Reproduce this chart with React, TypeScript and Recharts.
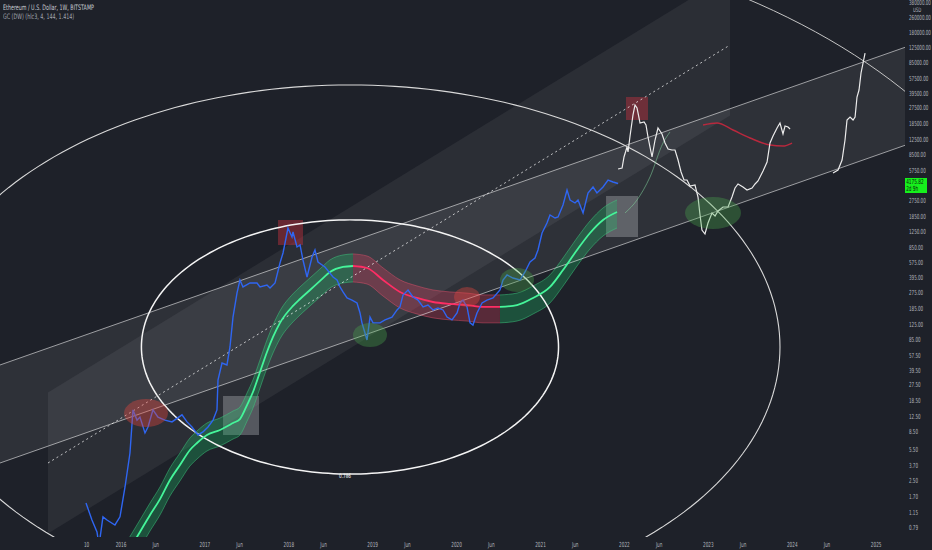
import React from 'react';
import {
  ComposedChart,
  Line,
  Area,
  XAxis,
  YAxis,
  ReferenceArea,
  ReferenceDot
} from 'recharts';

// ETH/USD weekly closes (decimal year, USD)
const ethWeeks = [
  2015.583, 2015.654, 2015.714, 2015.738, 2015.785, 2015.833, 2015.928, 2015.988, 2016.048, 2016.107,
  2016.143, 2016.191, 2016.226, 2016.286, 2016.322, 2016.381, 2016.441, 2016.524, 2016.608, 2016.727,
  2016.787, 2016.846, 2016.918, 2016.977, 2017.037, 2017.097, 2017.144, 2017.156, 2017.204, 2017.263,
  2017.299, 2017.335, 2017.383, 2017.418, 2017.454, 2017.538, 2017.621, 2017.657, 2017.740, 2017.776,
  2017.836, 2017.895, 2017.931, 2017.955, 2017.990, 2018.038, 2018.050, 2018.098, 2018.134, 2018.169,
  2018.217, 2018.277, 2018.312, 2018.348, 2018.431, 2018.527, 2018.575, 2018.610, 2018.646, 2018.694,
  2018.753, 2018.813, 2018.849, 2018.872, 2018.908, 2018.932, 2018.968, 2019.004, 2019.087, 2019.147,
  2019.230, 2019.290, 2019.325, 2019.361, 2019.421, 2019.480, 2019.540, 2019.600, 2019.659, 2019.719,
  2019.778, 2019.838, 2019.886, 2019.945, 2020.005, 2020.041, 2020.076, 2020.124, 2020.160, 2020.195,
  2020.243, 2020.303, 2020.362, 2020.434, 2020.517, 2020.553, 2020.601, 2020.672, 2020.756, 2020.815,
  2020.875, 2020.934, 2020.970, 2021.018, 2021.077, 2021.113, 2021.173, 2021.209, 2021.268, 2021.316,
  2021.352, 2021.411, 2021.447, 2021.507, 2021.566, 2021.626, 2021.673, 2021.745, 2021.805, 2021.864,
  2021.924
];
const ethClose = [
  1.44, 0.944, 0.7, 0.5, 1.02, 0.944, 0.833, 1.02, 2.15, 5.02,
  14.7, 11.4, 12.3, 8.27, 9.6, 14.7, 12.3, 11.4, 10.9, 13.0,
  10.9, 9.6, 7.87, 8.48, 9.6, 11.4, 14.7, 31.0, 47.4, 45.1,
  70.7, 149, 272, 376, 316, 349, 349, 316, 332, 308,
  349, 574, 737, 946, 1375, 1099, 1245, 856, 900, 619,
  405, 667, 794, 589, 520, 405, 376, 316, 279, 240,
  228, 212, 165, 129, 100, 84.1, 149, 129, 129, 139,
  149, 178, 192, 258, 293, 246, 228, 192, 201, 178,
  187, 178, 149, 139, 165, 212, 228, 192, 129, 122,
  165, 212, 228, 240, 293, 376, 426, 395, 376, 459,
  589, 651, 794, 1214, 1558, 1902, 1765, 1809, 2441, 3548,
  2765, 2566, 2765, 2000, 3293, 3823, 3293, 3823, 4554, 4331,
  4176
];

// fractal projection (white)
const fractalWeeks = [
  2021.924, 2021.972, 2021.995, 2022.031, 2022.043, 2022.067, 2022.102, 2022.126, 2022.150, 2022.162,
  2022.186, 2022.234, 2022.257, 2022.281, 2022.305, 2022.329, 2022.365, 2022.400, 2022.448, 2022.484,
  2022.520, 2022.567, 2022.603, 2022.639, 2022.675, 2022.710, 2022.746, 2022.782, 2022.841, 2022.877,
  2022.901, 2022.924, 2022.960, 2022.996, 2023.044, 2023.080, 2023.115, 2023.175, 2023.235, 2023.282,
  2023.318, 2023.354, 2023.413, 2023.461, 2023.521, 2023.557, 2023.592, 2023.652, 2023.700, 2023.735,
  2023.771, 2023.819, 2023.854, 2023.890, 2023.914, 2023.950, 2023.974
];
const fractalClose = [
  5991, 6143, 8083, 10370, 9157, 13650, 23050, 29570, 27440, 24230,
  18870, 19350, 17960, 13310, 10370, 8083, 12350, 16660, 14350, 11460,
  9867, 9625, 9625, 7502, 5561, 4554, 4554, 3921, 4019, 2980,
  1902, 1308, 1184, 1558, 2000, 1855, 2102, 2322, 2322, 2980,
  3730, 4121, 3823, 3548, 3730, 4121, 4441, 5701, 7135, 11460,
  13650, 16660, 18870, 14350, 17510, 17080, 16250
];
const fractal2Weeks = [
  2024.486, 2024.546, 2024.594, 2024.629, 2024.653, 2024.689, 2024.725, 2024.749, 2024.772, 2024.796,
  2024.820, 2024.844, 2024.868
];
const fractal2Close = [
  5424, 5844, 7502, 12350, 20340, 21920, 20340, 21920, 36110, 42990,
  65710, 84330, 108200
];

// GC ribbon: green leg, red leg, green leg
const gcWeeks1 = [
  2016.083, 2016.226, 2016.346, 2016.465, 2016.584, 2016.703, 2016.822, 2016.906, 2017.025, 2017.180,
  2017.335, 2017.418, 2017.502, 2017.573, 2017.657, 2017.740, 2017.812, 2017.895, 2018.050, 2018.134,
  2018.253, 2018.372, 2018.491, 2018.646, 2018.765
];
const gcMid1 = [
  0.425, 0.7, 1.07, 1.59, 2.56, 3.72, 5.41, 6.44, 7.87, 8.91,
  10.6, 11.7, 16.6, 23.0, 37.9, 62.4, 90.7, 129, 197, 234,
  293, 367, 459, 520, 533
];
const gcHigh1 = [
  0.574, 0.945, 1.44, 2.15, 3.46, 5.02, 7.3, 8.69, 10.6, 12.0,
  14.3, 15.8, 22.4, 31.1, 51.2, 84.2, 122, 174, 266, 316,
  396, 495, 620, 702, 720
];
const gcLow1 = [
  0.285, 0.47, 0.718, 1.07, 1.72, 2.5, 3.63, 4.32, 5.28, 5.98,
  7.11, 7.85, 11.1, 15.4, 25.4, 41.9, 60.9, 86.6, 132, 157,
  197, 246, 308, 349, 358
];
const gcWeeks2 = [2018.765, 2018.932, 2019.123, 2019.325, 2019.528, 2019.719, 2019.921, 2020.124, 2020.315, 2020.517];
const gcMid2 = [533, 507, 376, 279, 240, 217, 207, 201, 192, 192];
const gcHigh2 = [720, 684, 508, 377, 324, 293, 279, 271, 259, 259];
const gcLow2 = [358, 340, 252, 187, 161, 146, 139, 135, 129, 129];
const gcWeeks3 = [2020.517, 2020.720, 2020.911, 2021.113, 2021.268, 2021.435, 2021.590, 2021.745, 2021.912];
const gcMid3 = [192, 201, 240, 316, 482, 794, 1214, 1679, 2049];
const gcHigh3 = [259, 271, 324, 427, 651, 1072, 1639, 2267, 2766];
const gcLow3 = [129, 135, 161, 212, 323, 533, 815, 1127, 1375];

const gcProjWeeks = [2022.007, 2022.150, 2022.305, 2022.460, 2022.543];
const gcProjValues = [2000, 2765, 4909, 11460, 15080];
const redProjWeeks = [2022.937, 2023.104, 2023.294, 2023.497, 2023.735, 2023.890, 2023.998];
const redProjValues = [17960, 18870, 15850, 12990, 10900, 10630, 11460];

// drawings
const channelWeeks = [2014.558, 2025.344];
const channelTop = [45.1, 124700];
const channelBottom = [3.91, 10820];
const bandWeeks = [2015.13, 2023.259];
const bandTop = [22.7, 767000];
const bandMid = [3.91, 132100];
const bandBottom = [0.674, 22760];

// [t1, t2, low, high]
const redBoxes = [
  [2017.871, 2018.169, 900, 1679],
  [2022.019, 2022.281, 20340, 36110]
];
const greyBoxes = [
  [2017.216, 2017.645, 7.87, 20.8],
  [2021.781, 2022.162, 1099, 3055]
];
const redMarks = [[2016.298, 13.6], [2020.124, 246]];
const greenMarks = [[2018.968, 95.3], [2020.72, 376], [2023.056, 2000]];
const redMarkSize = [[22, 14], [13, 10]];
const greenMarkSize = [[17, 12], [17, 12], [28, 16]];

const ringCenterT = 2018.729;
const ringCenterP = 70.7;
const ringRadiusYears = 5.125;
const ringRadiusDecades = 2.839;
const ringRatios = [0.485, 1, 1.618];

const xTickTimes = [
  2015.59, 2016, 2016.414, 2017, 2017.414, 2018, 2018.414, 2019, 2019.414, 2020,
  2020.414, 2021, 2021.414, 2022, 2022.414, 2023, 2023.414, 2024, 2024.414, 2025
];
const xTickLabels = [
  '10', '2016', 'Jun', '2017', 'Jun', '2018', 'Jun', '2019', 'Jun', '2020',
  'Jun', '2021', 'Jun', '2022', 'Jun', '2023', 'Jun', '2024', 'Jun', '2025'
];
const priceTicks = [
  0.79, 1.15, 1.7, 2.5, 3.7, 5.5, 8.5, 12.5, 18.5, 27.5, 39.5, 57.5, 85, 125, 185, 275, 395,
  575, 850, 1250, 1850, 2750, 5750, 8500, 12500, 18500, 27500, 39500, 57500, 85000, 125000,
  180000, 260000, 380000
];

const timeDomain: [number, number] = [2014.558, 2025.344];
const priceDomain: [number, number] = [0.6173, 406000];

const zip = (ts: number[], vs: number[]) => ts.map((t, i) => ({ t, p: vs[i] }));
const zipRange = (ts: number[], lo: number[], hi: number[]) => ts.map((t, i) => ({ t, r: [lo[i], hi[i]] }));

const ring = (k: number) => {
  const steps = 240;
  return Array.from({ length: steps + 1 }, (_, i) => {
    const a = (i / steps) * Math.PI * 2;
    return {
      t: ringCenterT + ringRadiusYears * k * Math.cos(a),
      p: ringCenterP * Math.pow(10, ringRadiusDecades * k * Math.sin(a))
    };
  });
};

const FONT = "'DejaVu Sans', sans-serif";
const AXIS_TEXT = '#b2b5be';
const ringStyles = [
  { stroke: '#f4f4f4', width: 1.5 },
  { stroke: '#d9d9d9', width: 1.1 },
  { stroke: '#c4c4c4', width: 1 }
];

const ribbons = [
  { weeks: gcWeeks1, mid: gcMid1, lo: gcLow1, hi: gcHigh1, band: '#1fbf6a', edge: '#3fd083', line: '#45f59a' },
  { weeks: gcWeeks2, mid: gcMid2, lo: gcLow2, hi: gcHigh2, band: '#e0405f', edge: '#e0506c', line: '#ff2d64' },
  { weeks: gcWeeks3, mid: gcMid3, lo: gcLow3, hi: gcHigh3, band: '#1fbf6a', edge: '#3fd083', line: '#45f59a' }
];

// narrow text, like the TradingView scale font
const PriceTick = (props: any) => {
  const { x, y, payload } = props;
  return (
    <text transform={`translate(${x + 2},${y}) scale(0.58,1)`} dy="0.35em" fill={AXIS_TEXT} fontSize={7} fontFamily={FONT} textAnchor="start">
      {Number(payload.value).toFixed(2)}
    </text>
  );
};

const TimeTick = (props: any) => {
  const { x, y, index } = props;
  return (
    <text transform={`translate(${x},${y + 3}) scale(0.6,1)`} dy="0.71em" fill={AXIS_TEXT} fontSize={7} fontFamily={FONT} textAnchor="middle">
      {xTickLabels[index] ?? ''}
    </text>
  );
};

export default function App() {
  return (
    <div style={{ position: 'absolute', left: 0, top: 0, width: 932, height: 550, background: '#1e2129', fontFamily: FONT, overflow: 'hidden' }}>
      <ComposedChart width={932} height={550} margin={{ top: 0, right: 0, bottom: 0, left: 0 }}>
        <XAxis
          type="number"
          dataKey="t"
          domain={timeDomain}
          allowDataOverflow
          ticks={xTickTimes}
          interval={0}
          height={13}
          axisLine={false}
          tickLine={false}
          tickSize={0}
          tick={<TimeTick />}
        />
        <YAxis
          type="number"
          scale="log"
          dataKey="p"
          domain={priceDomain}
          allowDataOverflow
          orientation="right"
          width={27}
          ticks={priceTicks}
          interval={0}
          axisLine={false}
          tickLine={false}
          tickSize={0}
          tick={<PriceTick />}
        />

        <Area
          data={zipRange(bandWeeks, bandBottom, bandTop)}
          dataKey="r"
          type="linear"
          stroke="none"
          fill="#ffffff"
          fillOpacity={0.06}
          isAnimationActive={false}
          dot={false}
          activeDot={false}
        />
        <Area
          data={zipRange(channelWeeks, channelBottom, channelTop)}
          dataKey="r"
          type="linear"
          stroke="none"
          fill="#ffffff"
          fillOpacity={0.075}
          isAnimationActive={false}
          dot={false}
          activeDot={false}
        />
        <Line data={zip(channelWeeks, channelTop)} dataKey="p" stroke="#ffffff" strokeOpacity={0.55} strokeWidth={1} dot={false} activeDot={false} isAnimationActive={false} />
        <Line data={zip(channelWeeks, channelBottom)} dataKey="p" stroke="#ffffff" strokeOpacity={0.55} strokeWidth={1} dot={false} activeDot={false} isAnimationActive={false} />
        <Line data={zip(bandWeeks, bandMid)} dataKey="p" stroke="#ffffff" strokeOpacity={0.7} strokeWidth={1} strokeDasharray="2 3" dot={false} activeDot={false} isAnimationActive={false} />

        {ringRatios.map((k, i) => (
          <Line
            key={'ring' + i}
            data={ring(k)}
            dataKey="p"
            type="linear"
            stroke={ringStyles[i].stroke}
            strokeWidth={ringStyles[i].width}
            dot={false}
            activeDot={false}
            isAnimationActive={false}
          />
        ))}

        {greyBoxes.map((b, i) => (
          <ReferenceArea key={'gb' + i} x1={b[0]} x2={b[1]} y1={b[2]} y2={b[3]} fill="#b0b2b8" fillOpacity={0.38} stroke="none" />
        ))}
        {redBoxes.map((b, i) => (
          <ReferenceArea key={'rb' + i} x1={b[0]} x2={b[1]} y1={b[2]} y2={b[3]} fill="#c0303d" fillOpacity={0.45} stroke="none" />
        ))}
        {greenMarks.map((m, i) => (
          <ReferenceDot
            key={'gm' + i}
            x={m[0]}
            y={m[1]}
            r={1}
            shape={(p: any) => <ellipse cx={p.cx} cy={p.cy} rx={greenMarkSize[i][0]} ry={greenMarkSize[i][1]} fill="#4caf50" fillOpacity={0.33} />}
          />
        ))}
        {redMarks.map((m, i) => (
          <ReferenceDot
            key={'rm' + i}
            x={m[0]}
            y={m[1]}
            r={1}
            shape={(p: any) => <ellipse cx={p.cx} cy={p.cy} rx={redMarkSize[i][0]} ry={redMarkSize[i][1]} fill="#e0453f" fillOpacity={0.4} />}
          />
        ))}

        {ribbons.map((rb, i) => (
          <Area
            key={'band' + i}
            data={zipRange(rb.weeks, rb.lo, rb.hi)}
            dataKey="r"
            type="monotone"
            stroke={rb.edge}
            strokeOpacity={0.6}
            strokeWidth={0.8}
            fill={rb.band}
            fillOpacity={0.3}
            dot={false}
            activeDot={false}
            isAnimationActive={false}
          />
        ))}
        {ribbons.map((rb, i) => (
          <Line
            key={'mid' + i}
            data={zip(rb.weeks, rb.mid)}
            dataKey="p"
            type="monotone"
            stroke={rb.line}
            strokeWidth={1.8}
            dot={false}
            activeDot={false}
            isAnimationActive={false}
          />
        ))}
        <Line data={zip(gcProjWeeks, gcProjValues)} dataKey="p" type="monotone" stroke="#7fcf9a" strokeOpacity={0.55} strokeWidth={1} dot={false} activeDot={false} isAnimationActive={false} />
        <Line data={zip(redProjWeeks, redProjValues)} dataKey="p" type="monotone" stroke="#b8283d" strokeWidth={1.4} dot={false} activeDot={false} isAnimationActive={false} />

        <Line data={zip(ethWeeks, ethClose)} dataKey="p" type="linear" stroke="#2f66f2" strokeWidth={1.4} dot={false} activeDot={false} isAnimationActive={false} />
        <Line data={zip(fractalWeeks, fractalClose)} dataKey="p" type="linear" stroke="#ececec" strokeWidth={1.2} dot={false} activeDot={false} isAnimationActive={false} />
        <Line data={zip(fractal2Weeks, fractal2Close)} dataKey="p" type="linear" stroke="#ececec" strokeWidth={1.2} dot={false} activeDot={false} isAnimationActive={false} />

        <ReferenceDot
          x={2018.67}
          y={2.83}
          r={1}
          shape={(p: any) => (
            <text transform={`translate(${p.cx},${p.cy + 2}) scale(0.7,1)`} fill="#ffffff" fontSize={6} textAnchor="middle" fontFamily={FONT}>0.786</text>
          )}
        />
      </ComposedChart>

      <div style={{ position: 'absolute', left: 3, top: 3, fontSize: 7.5, color: '#c9ccd4', lineHeight: '9px', whiteSpace: 'nowrap', transform: 'scaleX(0.64)', transformOrigin: 'left top' }}>
        <div>Ethereum / U.S. Dollar, 1W, BITSTAMP</div>
        <div style={{ color: '#a3a7b0' }}>GC (DW) (hlc3, 4, 144, 1.414)</div>
      </div>
      <div style={{ position: 'absolute', left: 913, top: 7, fontSize: 6, lineHeight: '6px', color: AXIS_TEXT, transform: 'scaleX(0.65)', transformOrigin: 'left top' }}>USD</div>
      <div
        style={{
          position: 'absolute',
          left: 905,
          top: 178,
          width: 22,
          height: 15,
          background: '#16f01c'
        }}
      >
        <div
          style={{
            color: '#0b1a0b',
            fontSize: 7,
            lineHeight: '7px',
            paddingLeft: 2,
            paddingTop: 1,
            whiteSpace: 'nowrap',
            transform: 'scaleX(0.6)',
            transformOrigin: 'left top'
          }}
        >
          <div>4175.82</div>
          <div>2d 9h</div>
        </div>
      </div>
    </div>
  );
}
